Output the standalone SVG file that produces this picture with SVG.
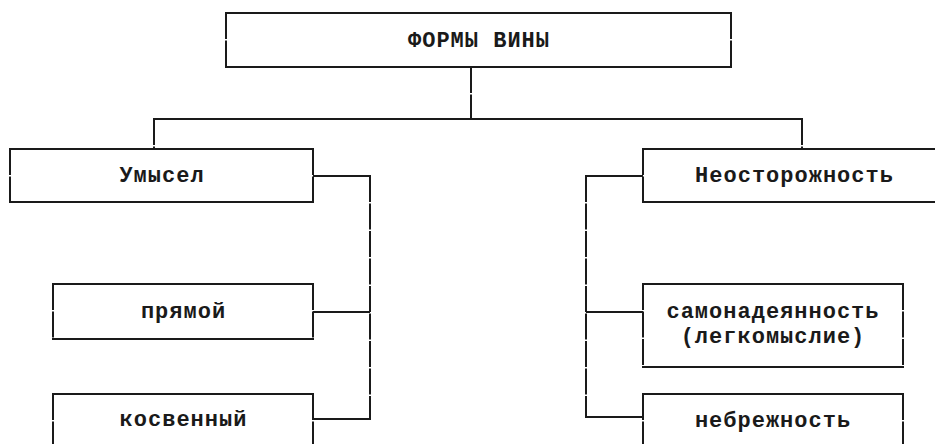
<svg xmlns="http://www.w3.org/2000/svg" width="935" height="444" viewBox="0 0 935 444">
  <style>
    .bg { fill: #ffffff; stroke: none; }
    .h { fill: none; stroke: #1a1a1a; stroke-width: 2; }
    .v { fill: none; stroke: #1a1a1a; stroke-width: 2; stroke-dasharray: 26 1.5; }
    .t { font-family: "Courier New", "Nimbus Mono PS", "FreeMono", "Liberation Mono", monospace; font-weight: bold; font-size: 22px; letter-spacing: 1px; fill: #1a1a1a; text-anchor: middle; }
  </style>
  <rect width="935" height="444" fill="#ffffff"/>
  <g id="connectors">
    <path class="v" d="M471 67 V119"/>
    <path class="h" d="M153 119 H803"/>
    <path class="v" d="M154 119 V149"/>
    <path class="v" d="M802 119 V149"/>
    <path class="h" d="M313 176 H371"/>
    <path class="v" d="M370 176 V419"/>
    <path class="h" d="M313 419 H371"/>
    <path class="h" d="M313 312 H370"/>
    <path class="h" d="M643 176 H585"/>
    <path class="v" d="M586 176 V417"/>
    <path class="h" d="M585 417 H643"/>
    <path class="h" d="M586 312 H643"/>
  </g>
  <g id="node-root">
    <rect class="bg" x="226" y="13" width="505" height="54"/>
    <path class="h" d="M225 13 H732 M225 67 H732"/>
    <path class="v" d="M226 13 V67 M731 13 V67"/>
    <text class="t" x="479" y="46.5">ФОРМЫ ВИНЫ</text>
  </g>
  <g id="node-umysel">
    <rect class="bg" x="10" y="149" width="303" height="53"/>
    <path class="h" d="M9 149 H314 M9 202 H314"/>
    <path class="v" d="M10 149 V202 M313 149 V202"/>
    <text class="t" x="162" y="182">Умысел</text>
  </g>
  <g id="node-neostorozhnost">
    <rect class="bg" x="643" y="149" width="304" height="53"/>
    <path class="h" d="M642 149 H948 M642 202 H948"/>
    <path class="v" d="M643 149 V202 M947 149 V202"/>
    <text class="t" x="794.5" y="182">Неосторожность</text>
  </g>
  <g id="node-pryamoy">
    <rect class="bg" x="53" y="284" width="260" height="55"/>
    <path class="h" d="M52 284 H314 M52 339 H314"/>
    <path class="v" d="M53 284 V339 M313 284 V339"/>
    <text class="t" x="183.5" y="317.5">прямой</text>
  </g>
  <g id="node-kosvenny">
    <rect class="bg" x="53" y="394" width="260" height="60"/>
    <path class="h" d="M52 394 H314 M52 454 H314"/>
    <path class="v" d="M53 394 V454 M313 394 V454"/>
    <text class="t" x="183.5" y="426">косвенный</text>
  </g>
  <g id="node-samonadeyannost">
    <rect class="bg" x="643" y="284" width="260" height="83"/>
    <path class="h" d="M642 284 H904 M642 367 H904"/>
    <path class="v" d="M643 284 V367 M903 284 V367"/>
    <text class="t" x="773" y="318">самонадеянность</text>
    <text class="t" x="773" y="343">(легкомыслие)</text>
  </g>
  <g id="node-nebrezhnost">
    <rect class="bg" x="643" y="394" width="260" height="60"/>
    <path class="h" d="M642 394 H904 M642 454 H904"/>
    <path class="v" d="M643 394 V454 M903 394 V454"/>
    <text class="t" x="773" y="426.5">небрежность</text>
  </g>
</svg>
